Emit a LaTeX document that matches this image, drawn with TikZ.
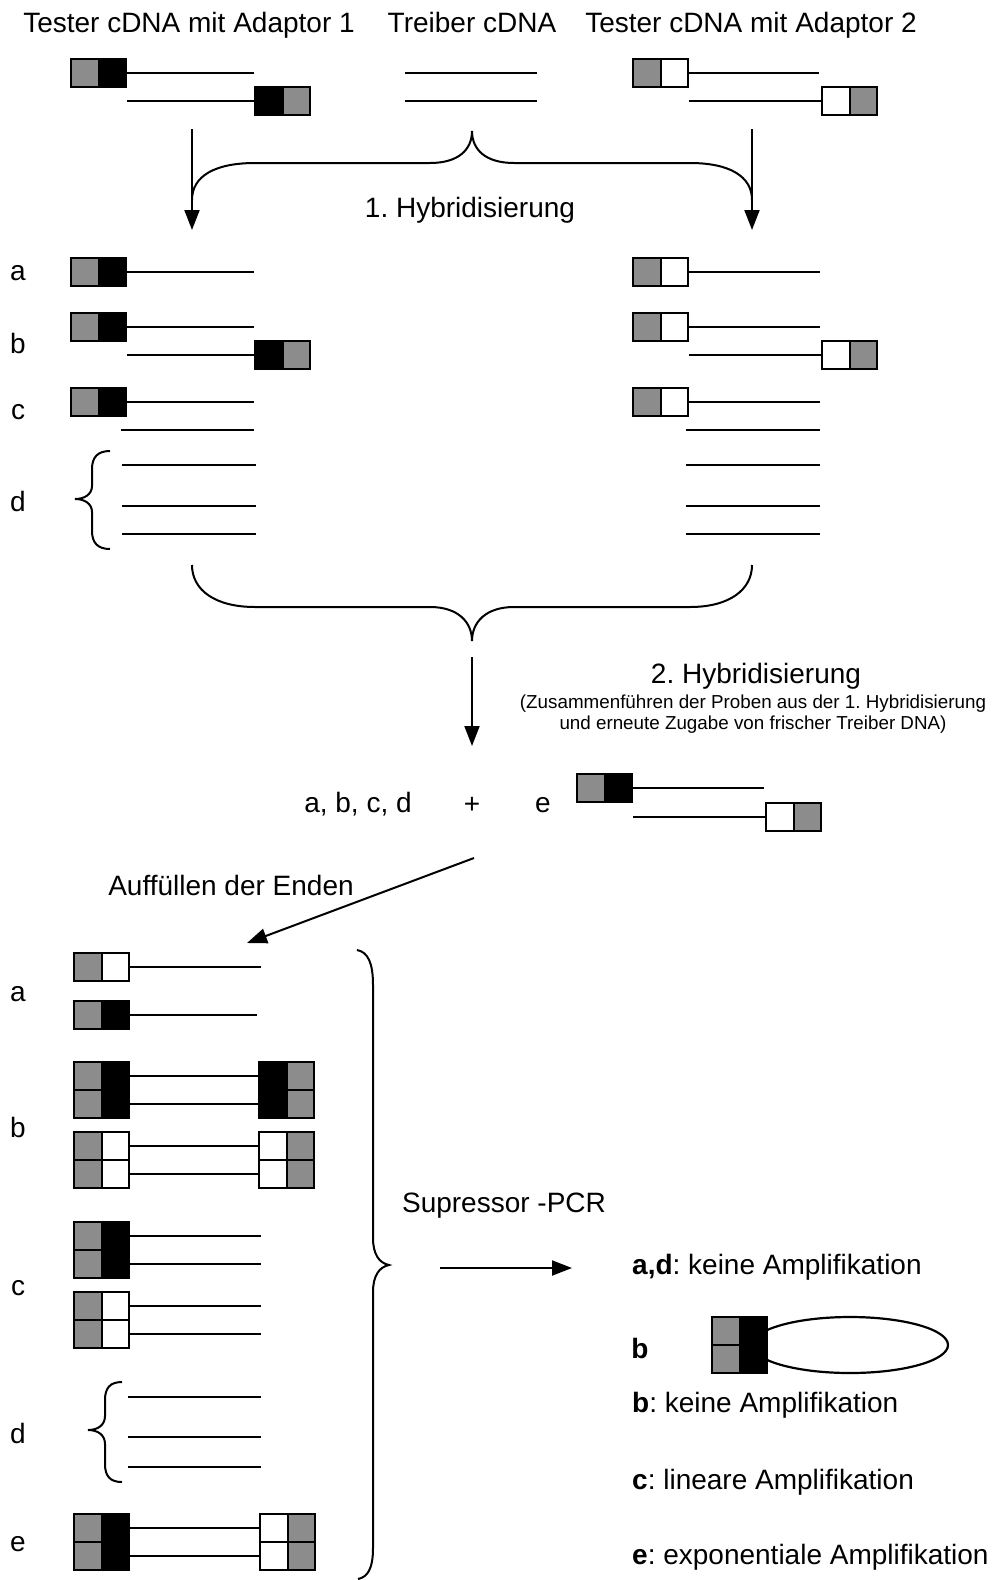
\documentclass[tikz,border=0pt]{standalone}
\usepackage{fontspec}
\setmainfont{Liberation Sans}
\usetikzlibrary{arrows.meta}
\definecolor{hatch}{RGB}{140,140,140}
\frenchspacing
\newcommand\myadp[4]{%
  \filldraw[boxline,fill=#3] (#1,#2) rectangle ++(27.5,28);
  \filldraw[boxline,fill=#4] (#1+27.5,#2) rectangle ++(27.5,28);
}
\tikzset{
  strand/.style={line width=2.2pt},
  boxline/.style={line width=2pt},
  lab/.style={inner sep=0pt, font=\fontsize{28}{33}\selectfont},
  smalltxt/.style={inner sep=0pt, align=center, font=\fontsize{18.8}{20.5}\selectfont},
  arr/.style={line width=2pt, -{Triangle[length=20pt,width=15pt]}},
  bracestyle/.style={line width=2pt}
}
\begin{document}
\frenchspacing
\begin{tikzpicture}[x=1pt,y=-1pt]
\fill[white] (0,0) rectangle (991,1580);
\useasboundingbox (0,0) rectangle (991,1580);

% headers
\node[lab] (h1) at (189,25) {Tester cDNA mit Adaptor 1};
\node[lab] (h2) at (472,22) {Treiber cDNA};
\node[lab] (h3) at (751,25) {Tester cDNA mit Adaptor 2};

% top molecules
\myadp{71}{59}{hatch}{black}
\draw[strand] (126,73) -- (254,73);
\draw[strand] (127,101) -- (255,101);
\myadp{255}{87}{black}{hatch}
\draw[strand] (405,73) -- (537,73);
\draw[strand] (405,101) -- (537,101);
\myadp{633}{59}{hatch}{white}
\draw[strand] (688,73) -- (819,73);
\draw[strand] (689,101) -- (822,101);
\myadp{822}{87}{white}{hatch}

% first hybridisation arrows and brace
\coordinate (a1s) at (192,129); \coordinate (a1e) at (192,230);
\coordinate (a2s) at (752,129); \coordinate (a2e) at (752,230);
\draw[arr] (a1s) -- (a1e);
\draw[arr] (a2s) -- (a2e);
\draw[bracestyle] (192,200) .. controls (192,176) and (215,163) .. (255,163) -- (430,163)
  .. controls (458,163) and (472,150) .. (472,131)
  .. controls (472,150) and (486,163) .. (514,163) -- (690,163)
  .. controls (729,163) and (752,176) .. (752,200);
\node[lab] (hyb1) at (470,210) {1. Hybridisierung};

% labels
\node[lab] (la) at (18,273) {a};
\node[lab] (lb) at (18,343) {b};
\node[lab] (lc) at (18,412) {c};
\node[lab] (ld) at (18,501) {d};

% rows a-d left
\myadp{71}{258}{hatch}{black}
\draw[strand] (126,272) -- (254,272);
\myadp{71}{313}{hatch}{black}
\draw[strand] (126,327) -- (254,327);
\draw[strand] (127,355) -- (255,355);
\myadp{255}{341}{black}{hatch}
\myadp{71}{388}{hatch}{black}
\draw[strand] (126,402) -- (254,402);
\draw[strand] (121,430) -- (254,430);
\draw[strand] (122,465) -- (256,465);
\draw[strand] (122,506) -- (256,506);
\draw[strand] (122,534) -- (256,534);
\draw[bracestyle] (110,451) .. controls (98,451) and (92,457) .. (92,469) -- (92,486)
  .. controls (92,494) and (85,499) .. (75,499)
  .. controls (85,499) and (92,504) .. (92,512) -- (92,531)
  .. controls (92,543) and (98,549) .. (110,549);

% rows a-d right
\myadp{633}{258}{hatch}{white}
\draw[strand] (688,272) -- (820,272);
\myadp{633}{313}{hatch}{white}
\draw[strand] (688,327) -- (820,327);
\draw[strand] (689,355) -- (822,355);
\myadp{822}{341}{white}{hatch}
\myadp{633}{388}{hatch}{white}
\draw[strand] (688,402) -- (820,402);
\draw[strand] (686,430) -- (820,430);
\draw[strand] (686,465) -- (820,465);
\draw[strand] (686,506) -- (820,506);
\draw[strand] (686,534) -- (820,534);

% second brace and arrow
\draw[bracestyle] (192,565) .. controls (192,590) and (215,607) .. (255,607) -- (430,607)
  .. controls (458,607) and (472,622) .. (472,641)
  .. controls (472,622) and (486,607) .. (514,607) -- (690,607)
  .. controls (729,607) and (752,590) .. (752,565);
\coordinate (a3s) at (472,657); \coordinate (a3e) at (472,746);
\draw[arr] (a3s) -- (a3e);
\node[lab] (hyb2) at (756,676) {2. Hybridisierung};
\node[smalltxt] (hyb2t) at (753,714) {(Zusammenführen der Proben aus der 1. Hybridisierung\\und erneute Zugabe von frischer Treiber DNA)};

% mix
\node[lab] (abcd) at (358,804) {a, b, c, d};
\node[lab] (plus) at (472,805) {+};
\node[lab] (le) at (543,805) {e};
\myadp{577}{774}{hatch}{black}
\draw[strand] (632,788) -- (764,788);
\draw[strand] (633,817) -- (766,817);
\myadp{766}{803}{white}{hatch}

% fill-in arrow
\coordinate (a4s) at (474,858); \coordinate (a4e) at (247,943);
\draw[arr] (a4s) -- (a4e);
\node[lab] (auff) at (231,885) {Auffüllen der Enden};

% lower labels
\node[lab] (la2) at (18,994) {a};
\node[lab] (lb2) at (18,1127) {b};
\node[lab] (lc2) at (18,1288) {c};
\node[lab] (ld2) at (18,1433) {d};
\node[lab] (le2) at (18,1544) {e};

% lower a
\myadp{74}{953}{hatch}{white}
\draw[strand] (129,967) -- (261,967);
\myadp{74}{1001}{hatch}{black}
\draw[strand] (129,1015) -- (257,1015);
% lower b
\draw[strand] (129,1076) -- (259,1076);
\draw[strand] (129,1104) -- (259,1104);
\myadp{74}{1062}{hatch}{black}
\myadp{74}{1090}{hatch}{black}
\myadp{259}{1062}{black}{hatch}
\myadp{259}{1090}{black}{hatch}
\draw[strand] (129,1146) -- (259,1146);
\draw[strand] (129,1174) -- (259,1174);
\myadp{74}{1132}{hatch}{white}
\myadp{74}{1160}{hatch}{white}
\myadp{259}{1132}{white}{hatch}
\myadp{259}{1160}{white}{hatch}
% lower c
\draw[strand] (129,1236) -- (261,1236);
\draw[strand] (129,1264) -- (261,1264);
\myadp{74}{1222}{hatch}{black}
\myadp{74}{1250}{hatch}{black}
\draw[strand] (129,1306) -- (261,1306);
\draw[strand] (129,1334) -- (261,1334);
\myadp{74}{1292}{hatch}{white}
\myadp{74}{1320}{hatch}{white}
% lower d
\draw[strand] (128,1397) -- (261,1397);
\draw[strand] (128,1437) -- (261,1437);
\draw[strand] (128,1467) -- (261,1467);
\draw[bracestyle] (122,1382) .. controls (110,1382) and (105,1388) .. (105,1400) -- (105,1416)
  .. controls (105,1425) and (98,1430) .. (88,1430)
  .. controls (98,1430) and (105,1435) .. (105,1444) -- (105,1464)
  .. controls (105,1476) and (110,1482) .. (122,1482);
% lower e
\draw[strand] (129,1528) -- (260,1528);
\draw[strand] (129,1556) -- (260,1556);
\myadp{74}{1514}{hatch}{black}
\myadp{74}{1542}{hatch}{black}
\myadp{260}{1514}{white}{hatch}
\myadp{260}{1542}{white}{hatch}

% big brace
\draw[bracestyle] (357,950) .. controls (368,952) and (373,963) .. (373,985) -- (373,1238)
  .. controls (373,1254) and (379,1263) .. (389,1265)
  .. controls (379,1267) and (373,1276) .. (373,1292) -- (373,1548)
  .. controls (373,1568) and (368,1577) .. (358,1579);

% PCR
\node[lab] (pcr) at (504,1206) {Supressor -PCR};
\coordinate (a5s) at (440,1268); \coordinate (a5e) at (572,1268);
\draw[arr] (a5s) -- (a5e);

\node[lab,anchor=west] (r1) at (632,1267) {\textbf{a,d}: keine Amplifikation};
\node[lab] (rb) at (640,1348) {\textbf{b}};
\draw[strand] (850,1345) ellipse [x radius=98, y radius=28];
\myadp{712}{1317}{hatch}{black}
\myadp{712}{1345}{hatch}{black}
\node[lab,anchor=west] (r2) at (632,1405) {\textbf{b}: keine Amplifikation};
\node[lab,anchor=west] (r3) at (632,1482) {\textbf{c}: lineare Amplifikation};
\node[lab,anchor=west] (r4) at (632,1557) {\textbf{e}: exponentiale Amplifikation};
\end{tikzpicture}
\end{document}
